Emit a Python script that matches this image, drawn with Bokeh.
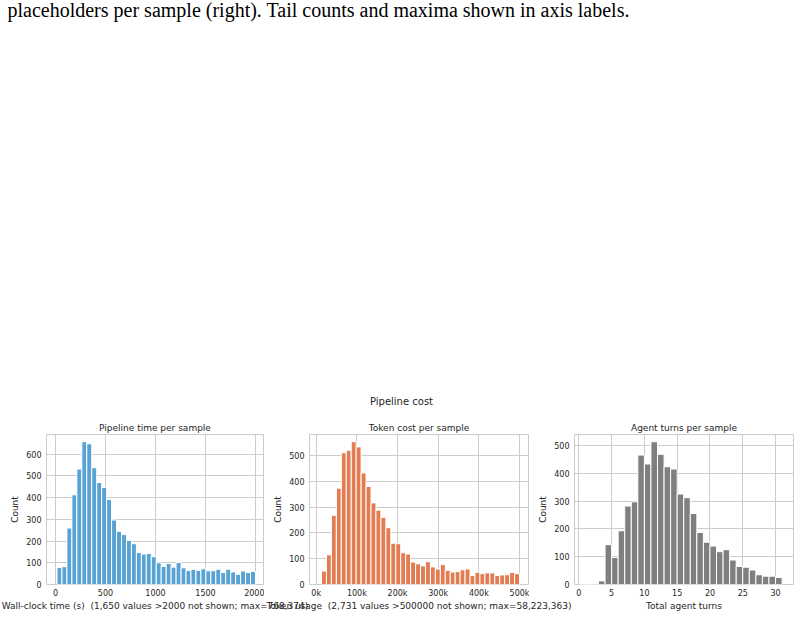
import numpy as np
from bokeh.plotting import figure
from bokeh.models import Range1d, Label, FixedTicker, ColumnDataSource
from bokeh.layouts import column, row
from bokeh.embed import file_html
from bokeh.resources import INLINE

# ---------------- data ----------------
caption = "placeholders per sample (right). Tail counts and maxima shown in axis labels."
suptitle = "Pipeline cost"

time_title = "Pipeline time per sample"
time_xlabel = "Wall-clock time (s) \u00a0(1,650 values >2000 not shown; max=768,374)"
time_counts = [78, 82, 260, 413, 532, 658, 648, 538, 470, 447,
               391, 297, 245, 230, 203, 188, 147, 140, 143, 128,
               100, 83, 97, 80, 101, 77, 65, 70, 65, 72,
               63, 63, 70, 55, 70, 58, 47, 62, 55, 60]
time_bin_lo, time_bin_hi = 15, 2000
time_ticks = [0, 500, 1000, 1500, 2000]

token_title = "Token cost per sample"
token_xlabel = "Token usage \u00a0(2,731 values >500000 not shown; max=58,223,363)"
token_counts = [52, 115, 268, 373, 510, 520, 553, 533, 432, 380,
                316, 288, 260, 220, 160, 158, 123, 118, 87, 80,
                72, 88, 68, 60, 77, 55, 48, 50, 57, 60,
                35, 47, 42, 45, 45, 35, 37, 38, 47, 42]
token_bin_lo, token_bin_hi = 13000, 500000
token_ticks = [0, 100000, 200000, 300000, 400000, 500000]
token_tick_labels = ["0k", "100k", "200k", "300k", "400k", "500k"]

turn_title = "Agent turns per sample"
turn_xlabel = "Total agent turns"
turn_counts = [2, 1, 2, 13, 143, 97, 193, 282, 297, 465,
               433, 513, 468, 423, 415, 325, 312, 255, 187, 152,
               138, 118, 125, 88, 65, 62, 52, 35, 30, 30, 25]
turn_bin_lo, turn_bin_hi = 0, 31
turn_ticks = [0, 5, 10, 15, 20, 25, 30]

count_ticks = [0, 100, 200, 300, 400, 500, 600]

TXT = "#262626"
GRID = "#cccccc"
FONT = "DejaVu Sans"


def hist_fig(counts, lo, hi, color, xr, yr, xticks, title, width, bl, br, overrides=None):
    edges = np.linspace(lo, hi, len(counts) + 1)
    src = ColumnDataSource(dict(left=edges[:-1], right=edges[1:], top=counts))
    p = figure(width=width, height=202, x_range=Range1d(*xr), y_range=Range1d(*yr),
               output_backend="svg", toolbar_location=None,
               min_border_left=bl, min_border_right=br, min_border_top=19, min_border_bottom=33)
    p.quad(left="left", right="right", top="top", bottom=0, source=src,
           fill_color=color, line_color="white", line_width=1)
    p.title.text = title
    p.title.align = "center"
    p.title.text_font = FONT
    p.title.text_font_size = "9px"
    p.title.text_font_style = "normal"
    p.title.text_color = TXT
    p.title.standoff = 4
    p.outline_line_color = GRID
    p.outline_line_width = 1
    p.xaxis.ticker = FixedTicker(ticks=xticks)
    p.yaxis.ticker = FixedTicker(ticks=count_ticks)
    if overrides:
        p.xaxis.major_label_overrides = overrides
    for ax in (p.xaxis, p.yaxis):
        ax.axis_line_color = None
        ax.major_tick_line_color = None
        ax.minor_tick_line_color = None
        ax.major_tick_out = 0
        ax.major_tick_in = 0
        ax.major_label_text_font = FONT
        ax.major_label_text_font_size = "8px"
        ax.major_label_text_color = TXT
    p.xaxis.major_label_standoff = 4
    p.yaxis.major_label_standoff = 5
    p.yaxis.axis_label = "Count"
    p.yaxis.axis_label_text_font = FONT
    p.yaxis.axis_label_text_font_size = "9px"
    p.yaxis.axis_label_text_font_style = "normal"
    p.yaxis.axis_label_text_color = TXT
    p.yaxis.axis_label_standoff = 3
    p.grid.grid_line_color = GRID
    p.grid.grid_line_width = 1
    p.background_fill_color = "white"
    p.border_fill_color = None
    return p


p1 = hist_fig(time_counts, time_bin_lo, time_bin_hi, "#58a2d4", (-90, 2080), (0, 691),
              time_ticks, time_title, 264, 46, 1)
p2 = hist_fig(token_counts, token_bin_lo, token_bin_hi, "#e27c52", (-16500, 522000), (0, 581),
              token_ticks, token_title, 265, 45, 1,
              overrides={t: l for t, l in zip(token_ticks, token_tick_labels)})
p3 = hist_fig(turn_counts, turn_bin_lo, turn_bin_hi, "#7f7f7f", (-0.66, 32.74), (0, 539),
              turn_ticks, turn_title, 270, 45, 6)

# top canvas with caption + suptitle
top = figure(width=799, height=415, x_range=Range1d(0, 799), y_range=Range1d(415, 0),
             x_axis_type=None, y_axis_type=None, output_backend="svg", toolbar_location=None,
             min_border=0)
top.outline_line_color = None
top.grid.visible = False
top.add_layout(Label(x=7, y=9, text=caption, text_font="Liberation Serif", text_font_size="20px",
                     text_color="black", text_baseline="alphabetic", text_align="left"))
top.add_layout(Label(x=401, y=401, text=suptitle, text_font=FONT, text_font_size="10px",
                     text_color=TXT, text_baseline="middle", text_align="center"))

# bottom strip with x-axis labels (they overflow panel widths), overlaid on the panels' bottom border
bot = figure(width=799, height=17, x_range=Range1d(0, 799), y_range=Range1d(17, 0),
             x_axis_type=None, y_axis_type=None, output_backend="svg", toolbar_location=None,
             min_border=0)
bot.outline_line_color = None
bot.grid.visible = False
bot.background_fill_color = None
bot.border_fill_color = None
bot.styles = {"margin-top": "-17px"}
for xc, lab in ((154.5, time_xlabel), (418.5, token_xlabel), (683.5, turn_xlabel)):
    bot.add_layout(Label(x=xc, y=5, text=lab, text_font=FONT, text_font_size="9px",
                         text_color=TXT, text_baseline="middle", text_align="center"))

layout = column(top, row(p1, p2, p3), bot)
open("out.html", "w").write(file_html(layout, INLINE))
